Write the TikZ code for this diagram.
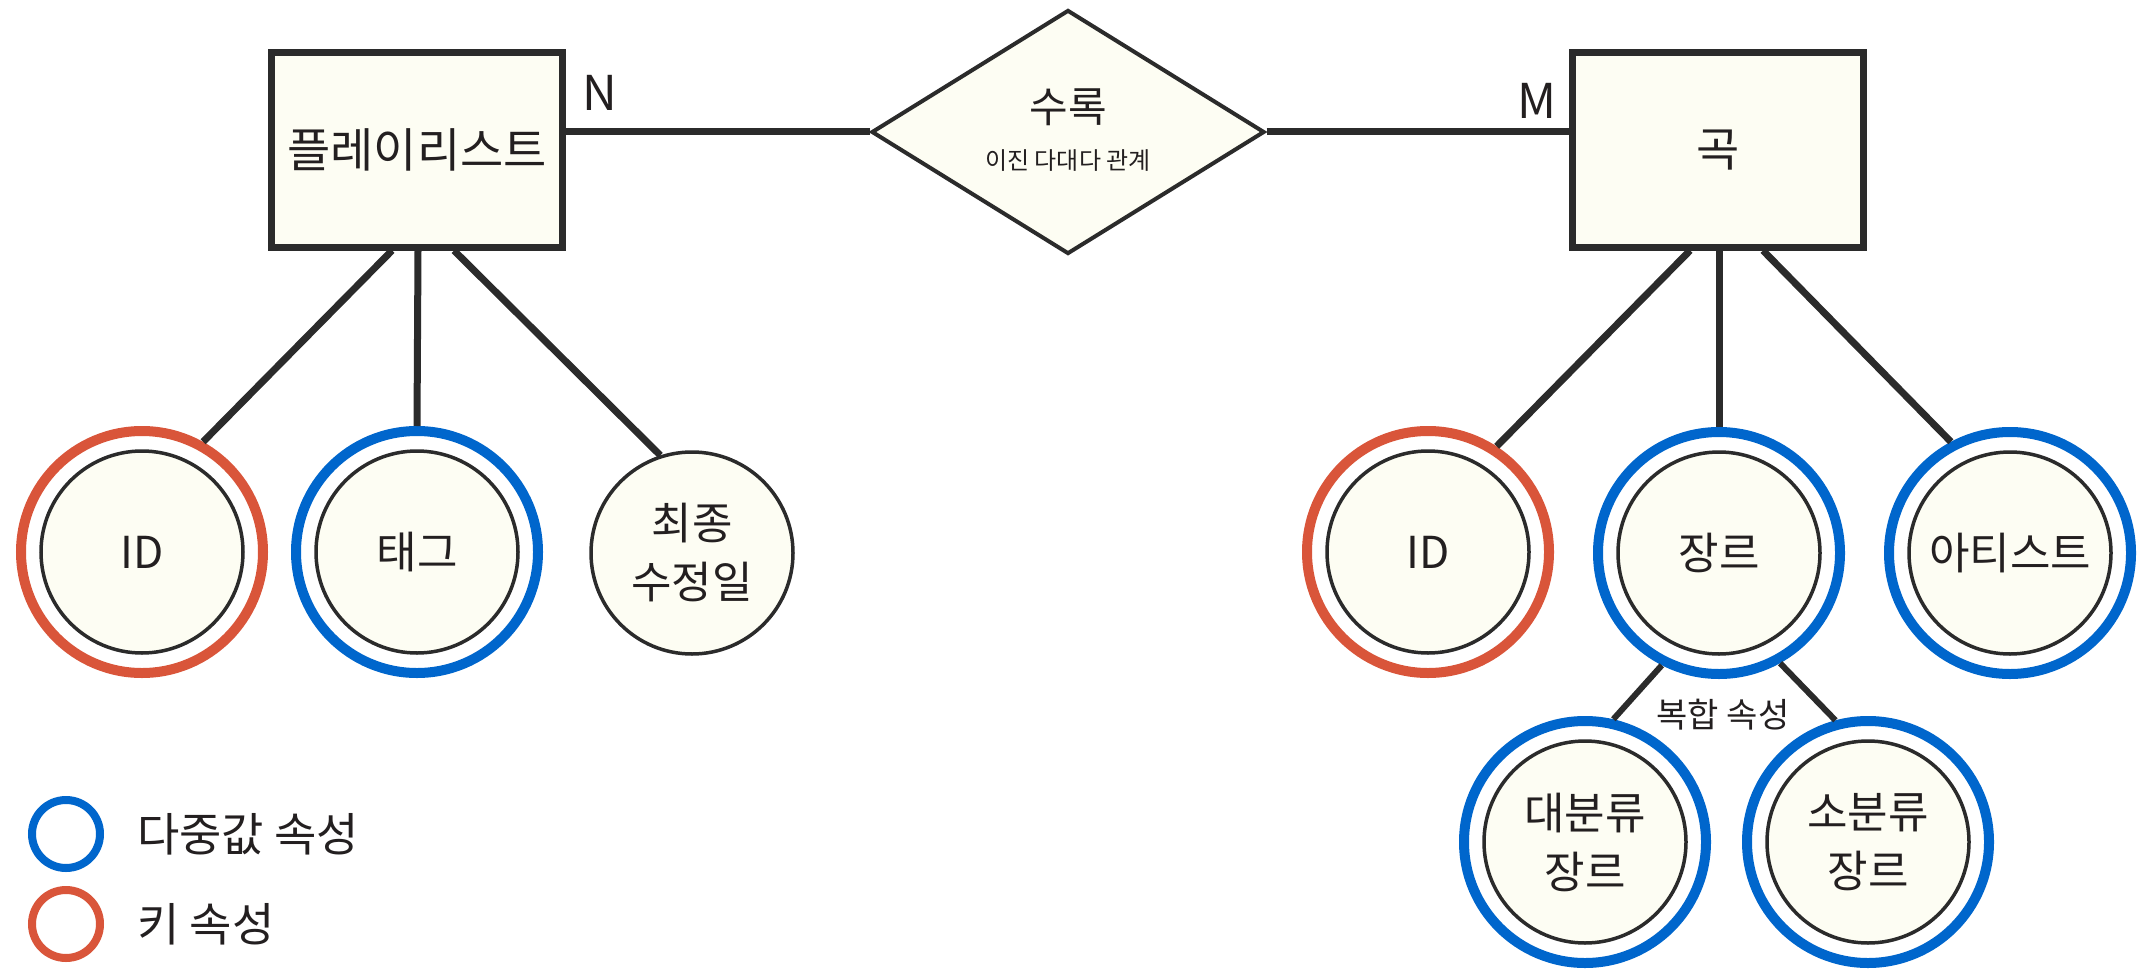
\documentclass[tikz,border=0pt]{standalone}
\usepackage{fontspec}
\setmainfont{Noto Sans CJK KR}
\usetikzlibrary{shapes.geometric}
\definecolor{ink}{HTML}{2B2B2B}
\definecolor{txt}{HTML}{231F20}
\definecolor{cream}{HTML}{FDFDF3}
\definecolor{kred}{HTML}{D9553A}
\definecolor{mblue}{HTML}{0066CC}
\begin{document}
\begin{tikzpicture}[x=1pt,y=-1pt,
  every node/.style={text=txt, inner sep=0pt},
  entity/.style={rectangle, draw=ink, line width=7pt, fill=cream,
    minimum width=291pt, minimum height=194pt, font=\fontsize{47}{54}\selectfont},
  relation/.style={diamond, draw=ink, line width=4pt, fill=cream,
    minimum width=393pt, minimum height=244pt},
  conn/.style={draw=ink, line width=7pt},
  subconn/.style={draw=ink, line width=6pt},
  ringkey/.style={circle, draw=kred, line width=10pt, fill=white, minimum size=242pt},
  ringmulti/.style={circle, draw=mblue, line width=10pt, fill=white, minimum size=242pt},
  attr/.style={circle, draw=ink, line width=3.5pt, fill=cream, minimum size=202pt,
    align=center, font=\fontsize{44}{59}\selectfont},
  card/.style={font=\fontsize{48}{54}\selectfont},
  legring/.style={circle, line width=8pt, fill=white, minimum size=68pt},
  legtext/.style={anchor=west, font=\fontsize{46}{52}\selectfont}
]
\useasboundingbox (0,0) rectangle (2141,971);

% entities and relation
\node[entity] (pl) at (417,150) {플레이리스트};
\node[entity] (song) at (1718,150) {곡};
\node[relation] (rel) at (1068,132) {};
\node[font=\fontsize{42}{48}\selectfont] (relname) at (1068,107) {수록};
\node[font=\fontsize{24}{28}\selectfont] (relnote) at (1068,161) {이진 다대다 관계};

\draw[conn] (rel.west -| pl.east) -- (rel.west);
\draw[conn] (rel.east) -- (rel.east -| song.west);
\node[card] (cardN) at (600,93) {N};
\node[card] (cardM) at (1537,101) {M};

% playlist attributes
\node[ringkey] (plidR) at (142,552) {};
\node[attr] (plid) at (plidR) {ID};
\node[ringmulti] (tagR) at (417,552) {};
\node[attr] (tag) at (tagR) {태그};
\node[attr] (mod) at (692,553) {최종\\수정일};

\draw[conn] ([xshift=-25pt]pl.south) -- (plidR.61);
\draw[conn] ([xshift=1pt]pl.south) -- (tagR.north);
\draw[conn] ([xshift=37pt]pl.south) -- (mod.108);

% song attributes
\node[ringkey] (sidR) at (1428,552) {};
\node[attr] (sid) at (sidR) {ID};
\node[ringmulti] (genreR) at (1719,553) {};
\node[attr] (genre) at (genreR) {장르};
\node[ringmulti] (artR) at (2010,553) {};
\node[attr] (art) at (artR) {아티스트};

\draw[conn] ([xshift=-28pt]song.south) -- (sidR.57);
\draw[conn] ([xshift=1pt]song.south) -- (genreR.north);
\draw[conn] ([xshift=45pt]song.south) -- (artR.118);

% composite genre
\node[ringmulti] (bigR) at (1585,842) {};
\node[attr] (big) at (bigR) {대분류\\장르};
\node[ringmulti] (smallR) at (1868,842) {};
\node[attr] (small) at (smallR) {소분류\\장르};

\draw[subconn] (genreR.243) -- (bigR.77);
\draw[subconn] (genreR.299) -- (smallR.105);
\node[font=\fontsize{34}{40}\selectfont] (comp) at (1723,715) {복합 속성};

% legend
\node[legring, draw=mblue] (legB) at (66,834) {};
\node[legtext] (legBt) at (137,834) {다중값 속성};
\node[legring, draw=kred] (legR) at (66,924) {};
\node[legtext] (legRt) at (137,924) {키 속성};
\end{tikzpicture}
\end{document}
